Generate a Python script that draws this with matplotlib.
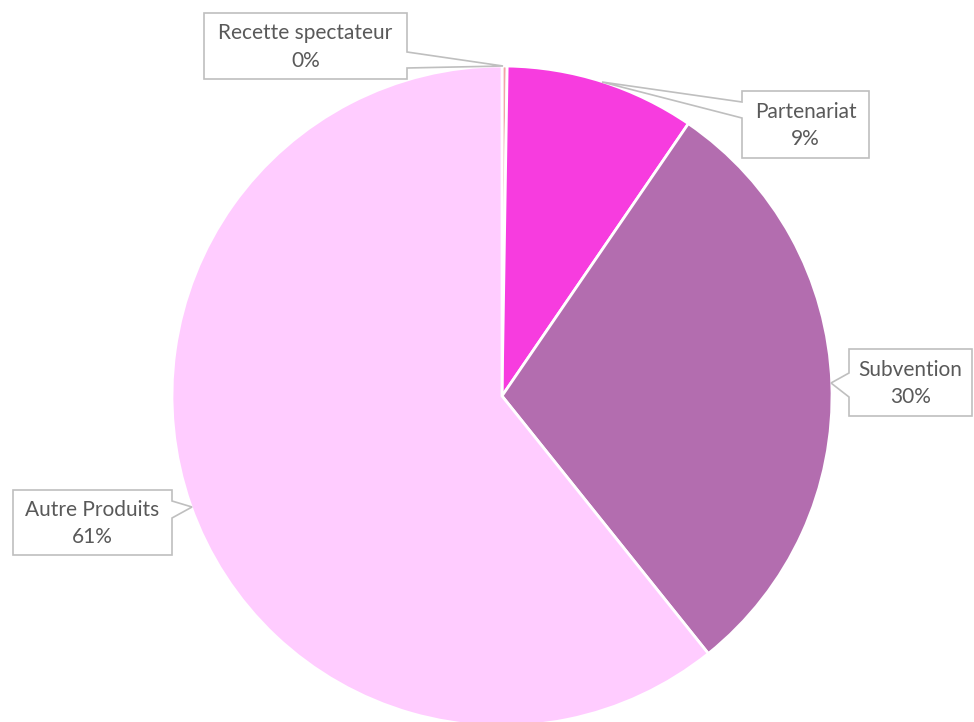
import matplotlib.pyplot as plt
from matplotlib.patches import Polygon

labels = ['Recette spectateur', 'Partenariat', 'Subvention', 'Autre Produits']
values = [0.25, 9.3, 29.7, 60.75]
colors = ['#F4A3A8', '#F73CDF', '#B36DAF', '#FFCCFF']

fig = plt.figure(figsize=(9.74, 7.22), dpi=100)
ax = fig.add_axes([0, 0, 1, 1])

# y axis points down, so counterclock=True runs clockwise on screen
ax.pie(values, colors=colors, startangle=-90, counterclock=True,
       center=(502, 396), radius=330, frame=True,
       wedgeprops=dict(edgecolor='white', linewidth=2.0))
ax.set_xlim(0, 974)
ax.set_ylim(722, 0)
ax.set_aspect('equal')
ax.axis('off')

# callout boxes: (x0, x1, y0, y1), side the pointer leaves from, pointer y-range, tip
callouts = [
    ((204, 407, 13, 79), 'right', (52, 68), (503, 66)),
    ((742, 869, 91, 158), 'left', (102, 118), (602, 82)),
    ((849, 972, 349, 416), 'left', (373, 397), (831, 383)),
    ((13, 172, 490, 555), 'right', (501, 518), (192, 507)),
]

total = sum(values)
for lab, val, (box, side, (p0, p1), tip) in zip(labels, values, callouts):
    x0, x1, y0, y1 = box
    if side == 'right':
        pts = [(x0, y0), (x1, y0), (x1, p0), tip, (x1, p1), (x1, y1), (x0, y1)]
    else:
        pts = [(x0, y0), (x1, y0), (x1, y1), (x0, y1), (x0, p1), tip, (x0, p0)]
    ax.add_patch(Polygon(pts, closed=True, facecolor='white',
                         edgecolor='#BFBFBF', linewidth=1.2, zorder=5))
    pct = round(val / total * 100)
    ax.text((x0 + x1) / 2, (y0 + y1) / 2 + 1, f'{lab}\n{pct}%', ha='center',
            va='center', fontsize=15, color='#595959', family='Lato',
            linespacing=1.45, zorder=6)

fig.savefig('out.png', dpi=100)
